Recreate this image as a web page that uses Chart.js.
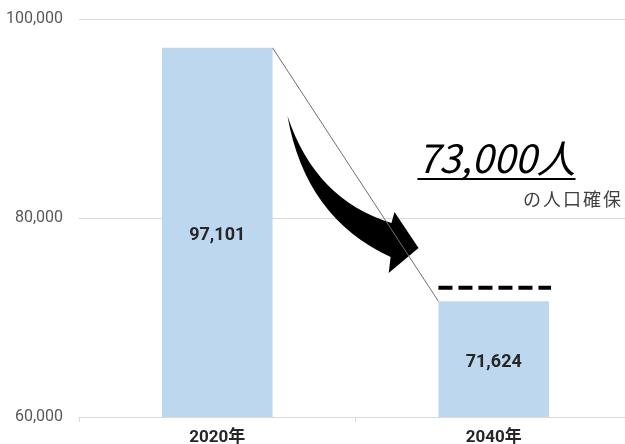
<!DOCTYPE html>
<html>
<head>
<meta charset="utf-8">
<script src="https://cdn.jsdelivr.net/npm/chart.js@4/dist/chart.umd.min.js"></script>
<style>
html,body{margin:0;padding:0;background:#fff;overflow:hidden;}
#wrap{position:relative;width:632px;height:452px;}
</style>
</head>
<body>
<div id="wrap"><canvas id="c"></canvas></div>
<script>
const categories = ['2020年', '2040年'];
const population = [97101, 71624];
const targetValue = [73000];
const yTickValues = [60000, 80000, 100000];
const headlineText = ['73,000人'];
const sublineText = ['の人口確保'];

const NARROW = 'Roboto,"Noto Sans CJK JP",sans-serif';
const fmt = v => v.toLocaleString('en-US');

const decorPlugin = {
  id: 'decor',
  afterDatasetsDraw(chart) {
    const ctx = chart.ctx;
    const xs = chart.scales.x, ys = chart.scales.y;
    const P = (i, v) => [xs.getPixelForValue(i), ys.getPixelForValue(v)];
    const bars = chart.getDatasetMeta(0).data;

    // curved block arrow (annotation, positioned in data space)
    const T = P(0.254, 90250), UC = P(0.355, 81810), U = P(0.630, 79500);
    const H1 = P(0.641, 80600), TIP = P(0.728, 76985), H2 = P(0.620, 74470);
    const L = P(0.627, 76080), LC = P(0.319, 80000);
    ctx.save();
    ctx.fillStyle = '#000';
    ctx.beginPath();
    ctx.moveTo(T[0], T[1]);
    ctx.quadraticCurveTo(UC[0], UC[1], U[0], U[1]);
    ctx.lineTo(H1[0], H1[1]);
    ctx.lineTo(TIP[0], TIP[1]);
    ctx.lineTo(H2[0], H2[1]);
    ctx.lineTo(L[0], L[1]);
    ctx.quadraticCurveTo(LC[0], LC[1], T[0], T[1]);
    ctx.closePath();
    ctx.fill();
    ctx.restore();

    // connector line between bar tops
    const b0 = bars[0], b1 = bars[1];
    ctx.save();
    ctx.strokeStyle = '#6f6f6f';
    ctx.lineWidth = 1;
    ctx.beginPath();
    ctx.moveTo(b0.x + b0.width / 2, b0.y);
    ctx.lineTo(b1.x - b1.width / 2, b1.y);
    ctx.stroke();
    ctx.restore();

    // target dashed line over second bar
    const ty = ys.getPixelForValue(targetValue[0]);
    ctx.save();
    ctx.strokeStyle = '#000';
    ctx.lineWidth = 4;
    ctx.setLineDash([14, 6]);
    ctx.beginPath();
    ctx.moveTo(b1.x - b1.width / 2, ty);
    ctx.lineTo(b1.x + b1.width / 2 + 2, ty);
    ctx.stroke();
    ctx.restore();

    // value labels in the middle of the visible part of each bar
    ctx.save();
    ctx.fillStyle = '#262626';
    ctx.font = 'bold 18px ' + NARROW;
    ctx.textAlign = 'center';
    ctx.textBaseline = 'alphabetic';
    const bottom = ys.getPixelForValue(ys.min);
    bars.forEach((b, i) => {
      ctx.fillText(fmt(population[i]), b.x, (b.y + bottom) / 2 + 7.5);
    });
    ctx.restore();

    // headline
    const hp = P(0.724, 84522);
    ctx.save();
    ctx.fillStyle = '#000';
    ctx.font = 'italic 39px "Noto Sans CJK JP",sans-serif';
    ctx.textAlign = 'left';
    ctx.textBaseline = 'alphabetic';
    ctx.fillText(headlineText[0], hp[0], hp[1]);
    const w = ctx.measureText(headlineText[0]).width;
    ctx.fillRect(hp[0], hp[1] + 5, w, 2);
    ctx.restore();

    // subline
    const sp = P(1.467, 81200);
    ctx.save();
    ctx.fillStyle = '#404040';
    ctx.font = '18px "Noto Sans CJK JP",sans-serif';
    ctx.letterSpacing = '2px';
    ctx.textAlign = 'right';
    ctx.textBaseline = 'alphabetic';
    ctx.fillText(sublineText[0], sp[0], sp[1]);
    ctx.restore();
  }
};

new Chart(document.getElementById('c'), {
  type: 'bar',
  data: {
    labels: categories,
    datasets: [{
      data: population,
      backgroundColor: '#BDD7EE',
      borderWidth: 0,
      barPercentage: 0.40,
      categoryPercentage: 1.0
    }]
  },
  options: {
    responsive: true,
    maintainAspectRatio: false,
    animation: false,
    events: [],
    layout: { padding: { top: 19, right: 0, left: 0, bottom: 0 } },
    plugins: { legend: { display: false }, tooltip: { enabled: false } },
    scales: {
      x: {
        offset: true,
        afterFit: s => { s.height = 35; s.paddingLeft = 0; s.paddingRight = 0; },
        grid: { offset: true, drawOnChartArea: false, drawTicks: true, tickLength: 5, color: '#d9d9d9' },
        border: { display: true, color: '#d9d9d9' },
        ticks: { color: '#262626', font: { family: NARROW, size: 17, weight: 'bold' }, padding: 6 }
      },
      y: {
        min: 60000, max: 100000,
        afterFit: s => { s.width = 79; s.paddingTop = 0; s.paddingBottom = 0; },
        afterBuildTicks: s => { s.ticks = yTickValues.map(v => ({ value: v })); },
        grid: { color: '#d9d9d9', drawTicks: false },
        border: { display: false },
        ticks: { color: '#595959', font: { family: NARROW, size: 16 }, padding: 16, callback: v => fmt(v) }
      }
    }
  },
  plugins: [decorPlugin]
});
</script>
</body>
</html>
